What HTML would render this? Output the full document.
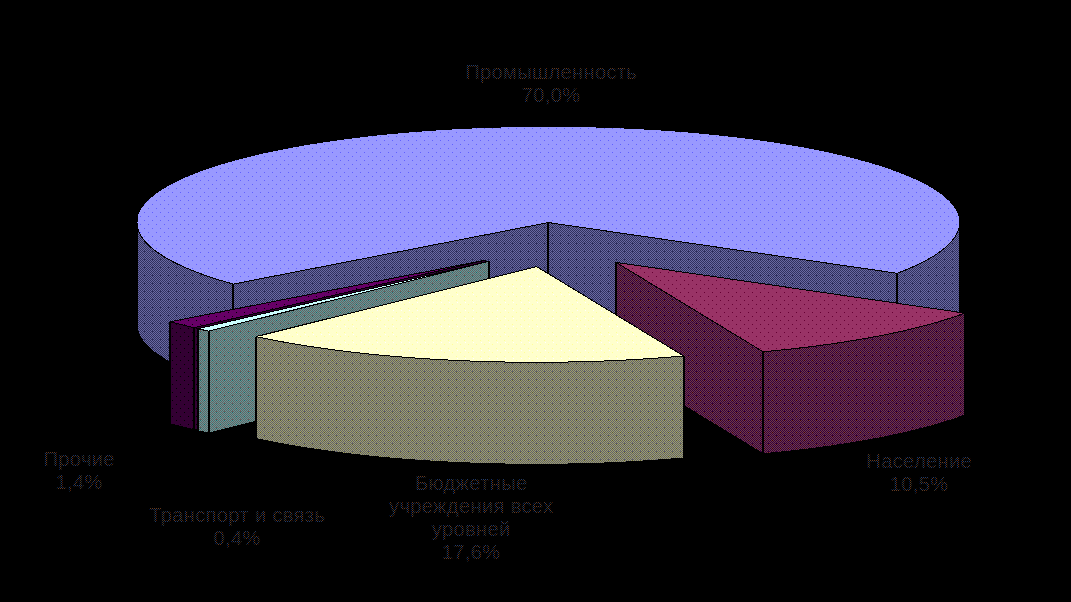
<!DOCTYPE html>
<html><head><meta charset="utf-8">
<style>
html,body{margin:0;padding:0;background:#000;}
body{width:1071px;height:602px;overflow:hidden;position:relative;}
svg{position:absolute;left:0;top:0;}
.t text{font-family:"Liberation Sans",sans-serif;font-size:20px;fill:url(#pText);letter-spacing:0.4px;}
</style></head><body>
<svg width="1071" height="602" viewBox="0 0 1071 602" shape-rendering="crispEdges">
<defs><pattern id="pBlueTop" patternUnits="userSpaceOnUse" width="8" height="8"><rect width="8" height="8" fill="#9999FF"/><rect x="0" y="4" width="1" height="1" fill="#6060FF"/><rect x="4" y="0" width="1" height="1" fill="#6060FF"/></pattern><pattern id="pBlueWall" patternUnits="userSpaceOnUse" width="8" height="8"><rect width="8" height="8" fill="#30305F"/><rect x="1" y="0" width="1" height="1" fill="#6A6AA2"/><rect x="3" y="0" width="1" height="1" fill="#6A6AA2"/><rect x="5" y="0" width="1" height="1" fill="#6A6AA2"/><rect x="7" y="0" width="1" height="1" fill="#6A6AA2"/><rect x="0" y="1" width="1" height="1" fill="#6A6AA2"/><rect x="2" y="1" width="1" height="1" fill="#6A6AA2"/><rect x="4" y="1" width="1" height="1" fill="#6A6AA2"/><rect x="6" y="1" width="1" height="1" fill="#6A6AA2"/><rect x="1" y="2" width="1" height="1" fill="#6A6AA2"/><rect x="3" y="2" width="1" height="1" fill="#6A6AA2"/><rect x="5" y="2" width="1" height="1" fill="#6A6AA2"/><rect x="7" y="2" width="1" height="1" fill="#6A6AA2"/><rect x="2" y="3" width="1" height="1" fill="#6A6AA2"/><rect x="4" y="3" width="1" height="1" fill="#6A6AA2"/><rect x="6" y="3" width="1" height="1" fill="#6A6AA2"/><rect x="1" y="4" width="1" height="1" fill="#6A6AA2"/><rect x="3" y="4" width="1" height="1" fill="#6A6AA2"/><rect x="5" y="4" width="1" height="1" fill="#6A6AA2"/><rect x="7" y="4" width="1" height="1" fill="#6A6AA2"/><rect x="0" y="5" width="1" height="1" fill="#6A6AA2"/><rect x="2" y="5" width="1" height="1" fill="#6A6AA2"/><rect x="4" y="5" width="1" height="1" fill="#6A6AA2"/><rect x="6" y="5" width="1" height="1" fill="#6A6AA2"/><rect x="1" y="6" width="1" height="1" fill="#6A6AA2"/><rect x="3" y="6" width="1" height="1" fill="#6A6AA2"/><rect x="5" y="6" width="1" height="1" fill="#6A6AA2"/><rect x="7" y="6" width="1" height="1" fill="#6A6AA2"/><rect x="0" y="7" width="1" height="1" fill="#6A6AA2"/><rect x="2" y="7" width="1" height="1" fill="#6A6AA2"/><rect x="4" y="7" width="1" height="1" fill="#6A6AA2"/><rect x="6" y="7" width="1" height="1" fill="#6A6AA2"/></pattern><pattern id="pNasTop" patternUnits="userSpaceOnUse" width="8" height="8"><rect width="8" height="8" fill="#993366"/><rect x="0" y="4" width="1" height="1" fill="#660033"/><rect x="4" y="0" width="1" height="1" fill="#660033"/></pattern><pattern id="pNasWall" patternUnits="userSpaceOnUse" width="8" height="8"><rect width="8" height="8" fill="#34003E"/><rect x="1" y="0" width="1" height="1" fill="#723A46"/><rect x="3" y="0" width="1" height="1" fill="#723A46"/><rect x="4" y="0" width="1" height="1" fill="#440000"/><rect x="5" y="0" width="1" height="1" fill="#723A46"/><rect x="7" y="0" width="1" height="1" fill="#723A46"/><rect x="0" y="1" width="1" height="1" fill="#723A46"/><rect x="2" y="1" width="1" height="1" fill="#723A46"/><rect x="4" y="1" width="1" height="1" fill="#723A46"/><rect x="6" y="1" width="1" height="1" fill="#723A46"/><rect x="1" y="2" width="1" height="1" fill="#723A46"/><rect x="3" y="2" width="1" height="1" fill="#723A46"/><rect x="5" y="2" width="1" height="1" fill="#723A46"/><rect x="7" y="2" width="1" height="1" fill="#723A46"/><rect x="2" y="3" width="1" height="1" fill="#723A46"/><rect x="4" y="3" width="1" height="1" fill="#723A46"/><rect x="6" y="3" width="1" height="1" fill="#723A46"/><rect x="0" y="4" width="1" height="1" fill="#440000"/><rect x="1" y="4" width="1" height="1" fill="#723A46"/><rect x="3" y="4" width="1" height="1" fill="#723A46"/><rect x="5" y="4" width="1" height="1" fill="#723A46"/><rect x="7" y="4" width="1" height="1" fill="#723A46"/><rect x="0" y="5" width="1" height="1" fill="#723A46"/><rect x="2" y="5" width="1" height="1" fill="#723A46"/><rect x="4" y="5" width="1" height="1" fill="#723A46"/><rect x="6" y="5" width="1" height="1" fill="#723A46"/><rect x="1" y="6" width="1" height="1" fill="#723A46"/><rect x="3" y="6" width="1" height="1" fill="#723A46"/><rect x="5" y="6" width="1" height="1" fill="#723A46"/><rect x="7" y="6" width="1" height="1" fill="#723A46"/><rect x="0" y="7" width="1" height="1" fill="#723A46"/><rect x="2" y="7" width="1" height="1" fill="#723A46"/><rect x="4" y="7" width="1" height="1" fill="#723A46"/><rect x="6" y="7" width="1" height="1" fill="#723A46"/></pattern><pattern id="pBudTop" patternUnits="userSpaceOnUse" width="8" height="8"><rect width="8" height="8" fill="#FFFFCC"/><rect x="0" y="4" width="1" height="1" fill="#FFFF99"/><rect x="4" y="0" width="1" height="1" fill="#FFFF99"/><rect x="1" y="6" width="1" height="1" fill="#FFFFFF"/></pattern><pattern id="pBudWall" patternUnits="userSpaceOnUse" width="8" height="8"><rect width="8" height="8" fill="#62626A"/><rect x="1" y="0" width="1" height="1" fill="#A0A06C"/><rect x="3" y="0" width="1" height="1" fill="#A0A06C"/><rect x="4" y="0" width="1" height="1" fill="#5A5A30"/><rect x="5" y="0" width="1" height="1" fill="#A0A06C"/><rect x="7" y="0" width="1" height="1" fill="#A0A06C"/><rect x="0" y="1" width="1" height="1" fill="#A0A06C"/><rect x="2" y="1" width="1" height="1" fill="#A0A06C"/><rect x="4" y="1" width="1" height="1" fill="#A0A06C"/><rect x="6" y="1" width="1" height="1" fill="#A0A06C"/><rect x="1" y="2" width="1" height="1" fill="#A0A06C"/><rect x="3" y="2" width="1" height="1" fill="#A0A06C"/><rect x="5" y="2" width="1" height="1" fill="#A0A06C"/><rect x="7" y="2" width="1" height="1" fill="#A0A06C"/><rect x="2" y="3" width="1" height="1" fill="#A0A06C"/><rect x="4" y="3" width="1" height="1" fill="#A0A06C"/><rect x="6" y="3" width="1" height="1" fill="#A0A06C"/><rect x="0" y="4" width="1" height="1" fill="#5A5A30"/><rect x="1" y="4" width="1" height="1" fill="#A0A06C"/><rect x="3" y="4" width="1" height="1" fill="#A0A06C"/><rect x="5" y="4" width="1" height="1" fill="#A0A06C"/><rect x="7" y="4" width="1" height="1" fill="#A0A06C"/><rect x="0" y="5" width="1" height="1" fill="#A0A06C"/><rect x="2" y="5" width="1" height="1" fill="#A0A06C"/><rect x="4" y="5" width="1" height="1" fill="#A0A06C"/><rect x="6" y="5" width="1" height="1" fill="#A0A06C"/><rect x="1" y="6" width="1" height="1" fill="#A0A06C"/><rect x="3" y="6" width="1" height="1" fill="#A0A06C"/><rect x="5" y="6" width="1" height="1" fill="#A0A06C"/><rect x="7" y="6" width="1" height="1" fill="#A0A06C"/><rect x="0" y="7" width="1" height="1" fill="#A0A06C"/><rect x="2" y="7" width="1" height="1" fill="#A0A06C"/><rect x="4" y="7" width="1" height="1" fill="#A0A06C"/><rect x="6" y="7" width="1" height="1" fill="#A0A06C"/></pattern><pattern id="pTrTop" patternUnits="userSpaceOnUse" width="8" height="8"><rect width="8" height="8" fill="#CCFFFF"/></pattern><pattern id="pTrWall" patternUnits="userSpaceOnUse" width="8" height="8"><rect width="8" height="8" fill="#686060"/><rect x="1" y="0" width="1" height="1" fill="#5E9C9C"/><rect x="3" y="0" width="1" height="1" fill="#5E9C9C"/><rect x="4" y="0" width="1" height="1" fill="#226666"/><rect x="5" y="0" width="1" height="1" fill="#5E9C9C"/><rect x="7" y="0" width="1" height="1" fill="#5E9C9C"/><rect x="0" y="1" width="1" height="1" fill="#5E9C9C"/><rect x="2" y="1" width="1" height="1" fill="#5E9C9C"/><rect x="4" y="1" width="1" height="1" fill="#5E9C9C"/><rect x="6" y="1" width="1" height="1" fill="#5E9C9C"/><rect x="1" y="2" width="1" height="1" fill="#5E9C9C"/><rect x="3" y="2" width="1" height="1" fill="#5E9C9C"/><rect x="5" y="2" width="1" height="1" fill="#5E9C9C"/><rect x="7" y="2" width="1" height="1" fill="#5E9C9C"/><rect x="2" y="3" width="1" height="1" fill="#5E9C9C"/><rect x="4" y="3" width="1" height="1" fill="#5E9C9C"/><rect x="6" y="3" width="1" height="1" fill="#5E9C9C"/><rect x="0" y="4" width="1" height="1" fill="#226666"/><rect x="1" y="4" width="1" height="1" fill="#5E9C9C"/><rect x="3" y="4" width="1" height="1" fill="#5E9C9C"/><rect x="5" y="4" width="1" height="1" fill="#5E9C9C"/><rect x="7" y="4" width="1" height="1" fill="#5E9C9C"/><rect x="0" y="5" width="1" height="1" fill="#5E9C9C"/><rect x="2" y="5" width="1" height="1" fill="#5E9C9C"/><rect x="4" y="5" width="1" height="1" fill="#5E9C9C"/><rect x="6" y="5" width="1" height="1" fill="#5E9C9C"/><rect x="1" y="6" width="1" height="1" fill="#5E9C9C"/><rect x="3" y="6" width="1" height="1" fill="#5E9C9C"/><rect x="5" y="6" width="1" height="1" fill="#5E9C9C"/><rect x="7" y="6" width="1" height="1" fill="#5E9C9C"/><rect x="0" y="7" width="1" height="1" fill="#5E9C9C"/><rect x="2" y="7" width="1" height="1" fill="#5E9C9C"/><rect x="4" y="7" width="1" height="1" fill="#5E9C9C"/><rect x="6" y="7" width="1" height="1" fill="#5E9C9C"/></pattern><pattern id="pPrTop" patternUnits="userSpaceOnUse" width="8" height="8"><rect width="8" height="8" fill="#660066"/><rect x="0" y="4" width="1" height="1" fill="#000000"/><rect x="4" y="0" width="1" height="1" fill="#000000"/></pattern><pattern id="pPrWall" patternUnits="userSpaceOnUse" width="8" height="8"><rect width="8" height="8" fill="#330033"/><rect x="0" y="4" width="1" height="1" fill="#000000"/><rect x="4" y="0" width="1" height="1" fill="#000000"/></pattern><pattern id="pText" patternUnits="userSpaceOnUse" width="2" height="2"><rect x="0" y="0" width="1" height="1" fill="#643a20"/><rect x="1" y="1" width="1" height="1" fill="#223c6a"/></pattern></defs>
<path d="M233.23,284.07 L230.93,283.43 L228.66,282.78 L226.42,282.13 L224.19,281.47 L222.00,280.81 L219.82,280.15 L217.68,279.48 L215.55,278.81 L213.46,278.13 L211.39,277.45 L209.34,276.76 L207.32,276.07 L205.33,275.38 L203.36,274.68 L201.42,273.97 L199.50,273.27 L197.61,272.56 L195.75,271.84 L193.92,271.13 L192.11,270.40 L190.33,269.68 L188.57,268.95 L186.85,268.22 L185.15,267.48 L183.48,266.74 L181.83,266.00 L180.22,265.26 L178.63,264.51 L177.07,263.75 L175.54,263.00 L174.04,262.24 L172.56,261.48 L171.12,260.72 L169.70,259.95 L168.31,259.18 L166.95,258.40 L165.62,257.63 L164.32,256.85 L163.05,256.07 L161.81,255.29 L160.59,254.50 L159.41,253.71 L158.26,252.92 L157.13,252.13 L156.04,251.33 L154.98,250.53 L153.94,249.74 L152.94,248.93 L151.96,248.13 L151.02,247.32 L150.10,246.52 L149.22,245.71 L148.37,244.90 L147.54,244.08 L146.75,243.27 L145.99,242.45 L145.26,241.63 L144.56,240.82 L143.89,239.99 L143.25,239.17 L142.64,238.35 L142.07,237.53 L141.52,236.70 L141.01,235.87 L140.52,235.05 L140.07,234.22 L139.65,233.39 L139.26,232.56 L138.90,231.73 L138.57,230.90 L138.27,230.06 L138.01,229.23 L137.77,228.40 L137.57,227.56 L137.39,226.73 L137.25,225.89 L137.14,225.06 L137.07,224.23 L137.02,223.39 L137.00,222.55 L137.00,324.55 L137.02,325.39 L137.07,326.23 L137.14,327.06 L137.25,327.89 L137.39,328.73 L137.57,329.56 L137.77,330.40 L138.01,331.23 L138.27,332.06 L138.57,332.90 L138.90,333.73 L139.26,334.56 L139.65,335.39 L140.07,336.22 L140.52,337.05 L141.01,337.87 L141.52,338.70 L142.07,339.53 L142.64,340.35 L143.25,341.17 L143.89,341.99 L144.56,342.82 L145.26,343.63 L145.99,344.45 L146.75,345.27 L147.54,346.08 L148.37,346.90 L149.22,347.71 L150.10,348.52 L151.02,349.32 L151.96,350.13 L152.94,350.93 L153.94,351.74 L154.98,352.53 L156.04,353.33 L157.13,354.13 L158.26,354.92 L159.41,355.71 L160.59,356.50 L161.81,357.29 L163.05,358.07 L164.32,358.85 L165.62,359.63 L166.95,360.40 L168.31,361.18 L169.70,361.95 L171.12,362.72 L172.56,363.48 L174.04,364.24 L175.54,365.00 L177.07,365.75 L178.63,366.51 L180.22,367.26 L181.83,368.00 L183.48,368.74 L185.15,369.48 L186.85,370.22 L188.57,370.95 L190.33,371.68 L192.11,372.40 L193.92,373.13 L195.75,373.84 L197.61,374.56 L199.50,375.27 L201.42,375.97 L203.36,376.68 L205.33,377.38 L207.32,378.07 L209.34,378.76 L211.39,379.45 L213.46,380.13 L215.55,380.81 L217.68,381.48 L219.82,382.15 L222.00,382.81 L224.19,383.47 L226.42,384.13 L228.66,384.78 L230.93,385.43 L233.23,386.07 Z" fill="url(#pBlueWall)" stroke="#000" stroke-width="1.0" stroke-linejoin="miter"/>
<path d="M959.60,222.55 L959.59,223.39 L959.54,224.23 L959.46,225.06 L959.35,225.89 L959.21,226.73 L959.04,227.56 L958.84,228.40 L958.60,229.23 L958.34,230.06 L958.04,230.90 L957.71,231.73 L957.35,232.56 L956.96,233.39 L956.54,234.22 L956.08,235.05 L955.60,235.87 L955.09,236.70 L954.54,237.53 L953.96,238.35 L953.35,239.17 L952.72,239.99 L952.05,240.82 L951.35,241.63 L950.62,242.45 L949.85,243.27 L949.06,244.08 L948.24,244.90 L947.39,245.71 L946.50,246.52 L945.59,247.32 L944.64,248.13 L943.67,248.93 L942.67,249.74 L941.63,250.53 L940.57,251.33 L939.47,252.13 L938.35,252.92 L937.20,253.71 L936.01,254.50 L934.80,255.29 L933.56,256.07 L932.29,256.85 L930.98,257.63 L929.65,258.40 L928.30,259.18 L926.91,259.95 L925.49,260.72 L924.04,261.48 L922.57,262.24 L921.07,263.00 L919.54,263.75 L917.98,264.51 L916.39,265.26 L914.77,266.00 L913.13,266.74 L911.46,267.48 L909.76,268.22 L908.03,268.95 L906.28,269.68 L904.50,270.40 L902.69,271.13 L900.86,271.84 L898.99,272.56 L897.11,273.27 L897.11,375.27 L898.99,374.56 L900.86,373.84 L902.69,373.13 L904.50,372.40 L906.28,371.68 L908.03,370.95 L909.76,370.22 L911.46,369.48 L913.13,368.74 L914.77,368.00 L916.39,367.26 L917.98,366.51 L919.54,365.75 L921.07,365.00 L922.57,364.24 L924.04,363.48 L925.49,362.72 L926.91,361.95 L928.30,361.18 L929.65,360.40 L930.98,359.63 L932.29,358.85 L933.56,358.07 L934.80,357.29 L936.01,356.50 L937.20,355.71 L938.35,354.92 L939.47,354.13 L940.57,353.33 L941.63,352.53 L942.67,351.74 L943.67,350.93 L944.64,350.13 L945.59,349.32 L946.50,348.52 L947.39,347.71 L948.24,346.90 L949.06,346.08 L949.85,345.27 L950.62,344.45 L951.35,343.63 L952.05,342.82 L952.72,341.99 L953.35,341.17 L953.96,340.35 L954.54,339.53 L955.09,338.70 L955.60,337.87 L956.08,337.05 L956.54,336.22 L956.96,335.39 L957.35,334.56 L957.71,333.73 L958.04,332.90 L958.34,332.06 L958.60,331.23 L958.84,330.40 L959.04,329.56 L959.21,328.73 L959.35,327.89 L959.46,327.06 L959.54,326.23 L959.59,325.39 L959.60,324.55 Z" fill="url(#pBlueWall)" stroke="#000" stroke-width="1.0" stroke-linejoin="miter"/>
<path d="M548.30,222.55 L233.23,284.07 L233.23,386.07 L548.30,324.55 Z" fill="url(#pBlueWall)" stroke="#000" stroke-width="1.0" stroke-linejoin="miter"/>
<path d="M548.30,222.55 L897.11,273.27 L897.11,375.27 L548.30,324.55 Z" fill="url(#pBlueWall)" stroke="#000" stroke-width="1.0" stroke-linejoin="miter"/>
<rect x="232" y="284.07" width="2" height="102.00" fill="#000"/>
<rect x="547" y="222.55" width="2" height="102.00" fill="#000"/>
<rect x="896" y="273.27" width="2" height="102.00" fill="#000"/>
<path d="M548.30,222.55 L233.23,284.07 L230.93,283.43 L228.66,282.78 L226.42,282.13 L224.19,281.47 L222.00,280.81 L219.82,280.15 L217.68,279.48 L215.55,278.81 L213.46,278.13 L211.39,277.45 L209.34,276.76 L207.32,276.07 L205.33,275.38 L203.36,274.68 L201.42,273.97 L199.50,273.27 L197.61,272.56 L195.75,271.84 L193.92,271.13 L192.11,270.40 L190.33,269.68 L188.57,268.95 L186.85,268.22 L185.15,267.48 L183.48,266.74 L181.83,266.00 L180.22,265.26 L178.63,264.51 L177.07,263.75 L175.54,263.00 L174.04,262.24 L172.56,261.48 L171.12,260.72 L169.70,259.95 L168.31,259.18 L166.95,258.40 L165.62,257.63 L164.32,256.85 L163.05,256.07 L161.81,255.29 L160.59,254.50 L159.41,253.71 L158.26,252.92 L157.13,252.13 L156.04,251.33 L154.98,250.53 L153.94,249.74 L152.94,248.93 L151.96,248.13 L151.02,247.32 L150.10,246.52 L149.22,245.71 L148.37,244.90 L147.54,244.08 L146.75,243.27 L145.99,242.45 L145.26,241.63 L144.56,240.82 L143.89,239.99 L143.25,239.17 L142.64,238.35 L142.07,237.53 L141.52,236.70 L141.01,235.87 L140.52,235.05 L140.07,234.22 L139.65,233.39 L139.26,232.56 L138.90,231.73 L138.57,230.90 L138.27,230.06 L138.01,229.23 L137.77,228.40 L137.57,227.56 L137.39,226.73 L137.25,225.89 L137.14,225.06 L137.07,224.23 L137.02,223.39 L137.00,222.55 L137.02,221.72 L137.07,220.88 L137.14,220.05 L137.25,219.21 L137.39,218.38 L137.57,217.55 L137.77,216.71 L138.01,215.88 L138.27,215.05 L138.57,214.21 L138.90,213.38 L139.26,212.55 L139.65,211.72 L140.07,210.89 L140.52,210.06 L141.01,209.24 L141.52,208.41 L142.07,207.58 L142.64,206.76 L143.25,205.94 L143.89,205.11 L144.56,204.29 L145.26,203.48 L145.99,202.66 L146.75,201.84 L147.54,201.03 L148.37,200.21 L149.22,199.40 L150.10,198.59 L151.02,197.79 L151.96,196.98 L152.94,196.18 L153.94,195.37 L154.98,194.57 L156.04,193.78 L157.13,192.98 L158.26,192.19 L159.41,191.40 L160.59,190.61 L161.81,189.82 L163.05,189.04 L164.32,188.26 L165.62,187.48 L166.95,186.70 L168.31,185.93 L169.70,185.16 L171.12,184.39 L172.56,183.63 L174.04,182.87 L175.54,182.11 L177.07,181.35 L178.63,180.60 L180.22,179.85 L181.83,179.11 L183.48,178.37 L185.15,177.63 L186.85,176.89 L188.57,176.16 L190.33,175.43 L192.11,174.70 L193.92,173.98 L195.75,173.27 L197.61,172.55 L199.50,171.84 L201.42,171.14 L203.36,170.43 L205.33,169.73 L207.32,169.04 L209.34,168.35 L211.39,167.66 L213.46,166.98 L215.55,166.30 L217.68,165.63 L219.82,164.96 L222.00,164.30 L224.19,163.64 L226.42,162.98 L228.66,162.33 L230.93,161.68 L233.23,161.04 L235.55,160.40 L237.89,159.77 L240.26,159.14 L242.65,158.52 L245.06,157.90 L247.50,157.29 L249.96,156.68 L252.44,156.08 L254.94,155.48 L257.47,154.88 L260.02,154.30 L262.59,153.71 L265.18,153.14 L267.80,152.56 L270.43,152.00 L273.09,151.44 L275.77,150.88 L278.47,150.33 L281.19,149.78 L283.92,149.24 L286.68,148.71 L289.46,148.18 L292.26,147.66 L295.08,147.14 L297.92,146.63 L300.78,146.13 L303.65,145.63 L306.55,145.13 L309.46,144.64 L312.39,144.16 L315.34,143.69 L318.31,143.22 L321.29,142.75 L324.29,142.29 L327.31,141.84 L330.35,141.40 L333.40,140.96 L336.47,140.52 L339.55,140.10 L342.65,139.68 L345.77,139.26 L348.90,138.85 L352.05,138.45 L355.21,138.06 L358.39,137.67 L361.58,137.29 L364.78,136.91 L368.00,136.54 L371.23,136.18 L374.48,135.82 L377.74,135.47 L381.01,135.13 L384.30,134.79 L387.60,134.46 L390.91,134.14 L394.23,133.82 L397.56,133.51 L400.91,133.21 L404.26,132.92 L407.63,132.63 L411.01,132.34 L414.40,132.07 L417.80,131.80 L421.20,131.54 L424.62,131.28 L428.05,131.04 L431.49,130.80 L434.93,130.56 L438.39,130.34 L441.85,130.12 L445.32,129.90 L448.80,129.70 L452.29,129.50 L455.78,129.31 L459.28,129.12 L462.79,128.95 L466.30,128.78 L469.82,128.61 L473.35,128.46 L476.88,128.31 L480.42,128.17 L483.96,128.03 L487.51,127.91 L491.06,127.79 L494.62,127.67 L498.18,127.57 L501.74,127.47 L505.31,127.38 L508.88,127.30 L512.46,127.22 L516.03,127.15 L519.61,127.09 L523.19,127.03 L526.78,126.99 L530.36,126.95 L533.95,126.91 L537.54,126.89 L541.13,126.87 L544.71,126.86 L548.30,126.85 L551.89,126.86 L555.48,126.87 L559.07,126.89 L562.66,126.91 L566.24,126.95 L569.83,126.99 L573.41,127.03 L576.99,127.09 L580.57,127.15 L584.15,127.22 L587.72,127.30 L591.30,127.38 L594.86,127.47 L598.43,127.57 L601.99,127.67 L605.55,127.79 L609.10,127.91 L612.64,128.03 L616.19,128.17 L619.72,128.31 L623.26,128.46 L626.78,128.61 L630.30,128.78 L633.82,128.95 L637.32,129.12 L640.83,129.31 L644.32,129.50 L647.81,129.70 L651.28,129.90 L654.76,130.12 L658.22,130.34 L661.67,130.56 L665.12,130.80 L668.56,131.04 L671.98,131.28 L675.40,131.54 L678.81,131.80 L682.21,132.07 L685.60,132.34 L688.98,132.63 L692.34,132.92 L695.70,133.21 L699.05,133.51 L702.38,133.82 L705.70,134.14 L709.01,134.46 L712.31,134.79 L715.59,135.13 L718.87,135.47 L722.13,135.82 L725.37,136.18 L728.61,136.54 L731.82,136.91 L735.03,137.29 L738.22,137.67 L741.40,138.06 L744.56,138.45 L747.71,138.85 L750.84,139.26 L753.95,139.68 L757.05,140.10 L760.14,140.52 L763.21,140.96 L766.26,141.40 L769.29,141.84 L772.31,142.29 L775.32,142.75 L778.30,143.22 L781.27,143.69 L784.22,144.16 L787.15,144.64 L790.06,145.13 L792.95,145.63 L795.83,146.13 L798.69,146.63 L801.52,147.14 L804.34,147.66 L807.14,148.18 L809.92,148.71 L812.68,149.24 L815.42,149.78 L818.14,150.33 L820.84,150.88 L823.52,151.44 L826.17,152.00 L828.81,152.56 L831.42,153.14 L834.02,153.71 L836.59,154.30 L839.14,154.88 L841.66,155.48 L844.17,156.08 L846.65,156.68 L849.11,157.29 L851.55,157.90 L853.96,158.52 L856.35,159.14 L858.72,159.77 L861.06,160.40 L863.38,161.04 L865.67,161.68 L867.94,162.33 L870.19,162.98 L872.41,163.64 L874.61,164.30 L876.78,164.96 L878.93,165.63 L881.05,166.30 L883.15,166.98 L885.22,167.66 L887.27,168.35 L889.29,169.04 L891.28,169.73 L893.25,170.43 L895.19,171.14 L897.11,171.84 L898.99,172.55 L900.86,173.27 L902.69,173.98 L904.50,174.70 L906.28,175.43 L908.03,176.16 L909.76,176.89 L911.46,177.63 L913.13,178.37 L914.77,179.11 L916.39,179.85 L917.98,180.60 L919.54,181.35 L921.07,182.11 L922.57,182.87 L924.04,183.63 L925.49,184.39 L926.91,185.16 L928.30,185.93 L929.65,186.70 L930.98,187.48 L932.29,188.26 L933.56,189.04 L934.80,189.82 L936.01,190.61 L937.20,191.40 L938.35,192.19 L939.47,192.98 L940.57,193.78 L941.63,194.57 L942.67,195.37 L943.67,196.18 L944.64,196.98 L945.59,197.79 L946.50,198.59 L947.39,199.40 L948.24,200.21 L949.06,201.03 L949.85,201.84 L950.62,202.66 L951.35,203.48 L952.05,204.29 L952.72,205.11 L953.35,205.94 L953.96,206.76 L954.54,207.58 L955.09,208.41 L955.60,209.24 L956.08,210.06 L956.54,210.89 L956.96,211.72 L957.35,212.55 L957.71,213.38 L958.04,214.21 L958.34,215.05 L958.60,215.88 L958.84,216.71 L959.04,217.55 L959.21,218.38 L959.35,219.21 L959.46,220.05 L959.54,220.88 L959.59,221.72 L959.60,222.55 L959.59,223.39 L959.54,224.23 L959.46,225.06 L959.35,225.89 L959.21,226.73 L959.04,227.56 L958.84,228.40 L958.60,229.23 L958.34,230.06 L958.04,230.90 L957.71,231.73 L957.35,232.56 L956.96,233.39 L956.54,234.22 L956.08,235.05 L955.60,235.87 L955.09,236.70 L954.54,237.53 L953.96,238.35 L953.35,239.17 L952.72,239.99 L952.05,240.82 L951.35,241.63 L950.62,242.45 L949.85,243.27 L949.06,244.08 L948.24,244.90 L947.39,245.71 L946.50,246.52 L945.59,247.32 L944.64,248.13 L943.67,248.93 L942.67,249.74 L941.63,250.53 L940.57,251.33 L939.47,252.13 L938.35,252.92 L937.20,253.71 L936.01,254.50 L934.80,255.29 L933.56,256.07 L932.29,256.85 L930.98,257.63 L929.65,258.40 L928.30,259.18 L926.91,259.95 L925.49,260.72 L924.04,261.48 L922.57,262.24 L921.07,263.00 L919.54,263.75 L917.98,264.51 L916.39,265.26 L914.77,266.00 L913.13,266.74 L911.46,267.48 L909.76,268.22 L908.03,268.95 L906.28,269.68 L904.50,270.40 L902.69,271.13 L900.86,271.84 L898.99,272.56 L897.11,273.27 Z" fill="url(#pBlueTop)" stroke="#000" stroke-width="1.0" stroke-linejoin="miter"/>
<path d="M137.57,217.55 L137.77,216.71 L138.01,215.88 L138.27,215.05 L138.57,214.21 L138.90,213.38 L139.26,212.55 L139.65,211.72 L140.07,210.89 L140.52,210.06 L141.01,209.24 L141.52,208.41 L142.07,207.58 L142.64,206.76 L143.25,205.94 L143.89,205.11 L144.56,204.29 L145.26,203.48 L145.99,202.66 L146.75,201.84 L147.54,201.03 L148.37,200.21 L149.22,199.40 L150.10,198.59 L151.02,197.79 L151.96,196.98 L152.94,196.18 L153.94,195.37 L154.98,194.57 L156.04,193.78 L157.13,192.98 L158.26,192.19 L159.41,191.40 L160.59,190.61 L161.81,189.82 L163.05,189.04 L164.32,188.26 L165.62,187.48 L166.95,186.70 L168.31,185.93 L169.70,185.16 L171.12,184.39 L172.56,183.63 L174.04,182.87 L175.54,182.11 L177.07,181.35 L178.63,180.60 L180.22,179.85 L181.83,179.11 L183.48,178.37 L185.15,177.63 L186.85,176.89 L188.57,176.16 L190.33,175.43 L192.11,174.70 L193.92,173.98 L195.75,173.27 L197.61,172.55 L199.50,171.84 L201.42,171.14 L203.36,170.43 L205.33,169.73 L207.32,169.04 L209.34,168.35 L211.39,167.66 L213.46,166.98 L215.55,166.30 L217.68,165.63 L219.82,164.96 L222.00,164.30 L224.19,163.64 L226.42,162.98 L228.66,162.33 L230.93,161.68 L233.23,161.04 L235.55,160.40 L237.89,159.77 L240.26,159.14 L242.65,158.52 L245.06,157.90 L247.50,157.29 L249.96,156.68 L252.44,156.08 L254.94,155.48 L257.47,154.88 L260.02,154.30 L262.59,153.71 L265.18,153.14 L267.80,152.56 L270.43,152.00 L273.09,151.44 L275.77,150.88 L278.47,150.33 L281.19,149.78 L283.92,149.24 L286.68,148.71 L289.46,148.18 L292.26,147.66 L295.08,147.14 L297.92,146.63 L300.78,146.13 L303.65,145.63 L306.55,145.13 L309.46,144.64 L312.39,144.16 L315.34,143.69 L318.31,143.22 L321.29,142.75 L324.29,142.29 L327.31,141.84 L330.35,141.40 L333.40,140.96 L336.47,140.52 L339.55,140.10 L342.65,139.68 L345.77,139.26 L348.90,138.85 L352.05,138.45 L355.21,138.06 L358.39,137.67 L361.58,137.29 L364.78,136.91 L368.00,136.54 L371.23,136.18 L374.48,135.82 L377.74,135.47 L381.01,135.13 L384.30,134.79 L387.60,134.46 L390.91,134.14 L394.23,133.82 L397.56,133.51 L400.91,133.21 L404.26,132.92 L407.63,132.63 L411.01,132.34 L414.40,132.07 L417.80,131.80 L421.20,131.54 L424.62,131.28 L428.05,131.04 L431.49,130.80 L434.93,130.56 L438.39,130.34 L441.85,130.12 L445.32,129.90 L448.80,129.70 L452.29,129.50 L455.78,129.31 L459.28,129.12 L462.79,128.95 L466.30,128.78 L469.82,128.61 L473.35,128.46 L476.88,128.31 L480.42,128.17 L483.96,128.03 L487.51,127.91 L491.06,127.79 L494.62,127.67 L498.18,127.57 L501.74,127.47 L505.31,127.38 L508.88,127.30 L512.46,127.22 L516.03,127.15 L519.61,127.09 L523.19,127.03 L526.78,126.99 L530.36,126.95 L533.95,126.91 L537.54,126.89 L541.13,126.87 L544.71,126.86 L548.30,126.85 L551.89,126.86 L555.48,126.87 L559.07,126.89 L562.66,126.91 L566.24,126.95 L569.83,126.99 L573.41,127.03 L576.99,127.09 L580.57,127.15 L584.15,127.22 L587.72,127.30 L591.30,127.38 L594.86,127.47 L598.43,127.57 L601.99,127.67 L605.55,127.79 L609.10,127.91 L612.64,128.03 L616.19,128.17 L619.72,128.31 L623.26,128.46 L626.78,128.61 L630.30,128.78 L633.82,128.95 L637.32,129.12 L640.83,129.31 L644.32,129.50 L647.81,129.70 L651.28,129.90 L654.76,130.12 L658.22,130.34 L661.67,130.56 L665.12,130.80 L668.56,131.04 L671.98,131.28 L675.40,131.54 L678.81,131.80 L682.21,132.07 L685.60,132.34 L688.98,132.63 L692.34,132.92 L695.70,133.21 L699.05,133.51 L702.38,133.82 L705.70,134.14 L709.01,134.46 L712.31,134.79 L715.59,135.13 L718.87,135.47 L722.13,135.82 L725.37,136.18 L728.61,136.54 L731.82,136.91 L735.03,137.29 L738.22,137.67 L741.40,138.06 L744.56,138.45 L747.71,138.85 L750.84,139.26 L753.95,139.68 L757.05,140.10 L760.14,140.52 L763.21,140.96 L766.26,141.40 L769.29,141.84 L772.31,142.29 L775.32,142.75 L778.30,143.22 L781.27,143.69 L784.22,144.16 L787.15,144.64 L790.06,145.13 L792.95,145.63 L795.83,146.13 L798.69,146.63 L801.52,147.14 L804.34,147.66 L807.14,148.18 L809.92,148.71 L812.68,149.24 L815.42,149.78 L818.14,150.33 L820.84,150.88 L823.52,151.44 L826.17,152.00 L828.81,152.56 L831.42,153.14 L834.02,153.71 L836.59,154.30 L839.14,154.88 L841.66,155.48 L844.17,156.08 L846.65,156.68 L849.11,157.29 L851.55,157.90 L853.96,158.52 L856.35,159.14 L858.72,159.77 L861.06,160.40 L863.38,161.04 L865.67,161.68 L867.94,162.33 L870.19,162.98 L872.41,163.64 L874.61,164.30 L876.78,164.96 L878.93,165.63 L881.05,166.30 L883.15,166.98 L885.22,167.66 L887.27,168.35 L889.29,169.04 L891.28,169.73 L893.25,170.43 L895.19,171.14 L897.11,171.84 L898.99,172.55 L900.86,173.27 L902.69,173.98 L904.50,174.70 L906.28,175.43 L908.03,176.16 L909.76,176.89 L911.46,177.63 L913.13,178.37 L914.77,179.11 L916.39,179.85 L917.98,180.60 L919.54,181.35 L921.07,182.11 L922.57,182.87 L924.04,183.63 L925.49,184.39 L926.91,185.16 L928.30,185.93 L929.65,186.70 L930.98,187.48 L932.29,188.26 L933.56,189.04 L934.80,189.82 L936.01,190.61 L937.20,191.40 L938.35,192.19 L939.47,192.98 L940.57,193.78 L941.63,194.57 L942.67,195.37 L943.67,196.18 L944.64,196.98 L945.59,197.79 L946.50,198.59 L947.39,199.40 L948.24,200.21 L949.06,201.03 L949.85,201.84 L950.62,202.66 L951.35,203.48 L952.05,204.29 L952.72,205.11 L953.35,205.94 L953.96,206.76 L954.54,207.58 L955.09,208.41 L955.60,209.24 L956.08,210.06 L956.54,210.89 L956.96,211.72 L957.35,212.55 L957.71,213.38 L958.04,214.21 L958.34,215.05 L958.60,215.88 L958.84,216.71 L959.04,217.55 Z" fill="url(#pBlueTop)"/>
<path d="M485.16,260.19 L193.82,327.74 L193.82,429.74 L485.16,362.19 Z" fill="url(#pPrWall)" stroke="#000" stroke-width="1.0" stroke-linejoin="miter"/>
<path d="M193.82,327.74 L191.08,327.09 L188.36,326.44 L185.67,325.78 L183.00,325.11 L180.36,324.44 L177.75,323.77 L175.17,323.08 L172.62,322.39 L170.09,321.70 L170.09,423.70 L172.62,424.39 L175.17,425.08 L177.75,425.77 L180.36,426.44 L183.00,427.11 L185.67,427.78 L188.36,428.44 L191.08,429.09 L193.82,429.74 Z" fill="url(#pPrWall)" stroke="#000" stroke-width="1.0" stroke-linejoin="miter"/>
<rect x="169" y="321.70" width="2" height="102.00" fill="#000"/>
<rect x="194" y="327.74" width="1" height="102.00" fill="#000"/>
<path d="M485.16,260.19 L193.82,327.74 L191.08,327.09 L188.36,326.44 L185.67,325.78 L183.00,325.11 L180.36,324.44 L177.75,323.77 L175.17,323.08 L172.62,322.39 L170.09,321.70 Z" fill="url(#pPrTop)" stroke="#000" stroke-width="1.0" stroke-linejoin="miter"/>
<path d="M489.25,261.17 L208.75,331.16 L208.75,433.16 L489.25,363.17 Z" fill="url(#pTrWall)" stroke="#000" stroke-width="1.0" stroke-linejoin="miter"/>
<path d="M208.75,331.16 L206.00,330.56 L203.28,329.95 L200.58,329.34 L197.91,328.72 L197.91,430.72 L200.58,431.34 L203.28,431.95 L206.00,432.56 L208.75,433.16 Z" fill="url(#pTrWall)" stroke="#000" stroke-width="1.0" stroke-linejoin="miter"/>
<rect x="488" y="261.17" width="2" height="102.00" fill="#000"/>
<rect x="208" y="331.16" width="2" height="102.00" fill="#000"/>
<rect x="198" y="328.72" width="1" height="102.00" fill="#000"/>
<path d="M489.25,261.17 L208.75,331.16 L206.00,330.56 L203.28,329.95 L200.58,329.34 L197.91,328.72 Z" fill="url(#pTrTop)" stroke="#000" stroke-width="1.0" stroke-linejoin="miter"/>
<path d="M616.03,262.37 L763.09,351.74 L763.09,453.74 L616.03,364.37 Z" fill="url(#pNasWall)" stroke="#000" stroke-width="1.0" stroke-linejoin="miter"/>
<path d="M964.83,313.08 L962.92,313.79 L960.97,314.49 L959.00,315.19 L957.00,315.89 L954.98,316.58 L952.93,317.26 L950.86,317.95 L948.76,318.63 L946.63,319.30 L944.48,319.97 L942.30,320.64 L940.10,321.30 L937.88,321.95 L935.63,322.61 L933.35,323.25 L931.06,323.90 L928.73,324.53 L926.39,325.17 L924.02,325.80 L921.62,326.42 L919.20,327.04 L916.76,327.65 L914.30,328.26 L911.81,328.87 L909.31,329.46 L906.78,330.06 L904.22,330.65 L901.65,331.23 L899.05,331.81 L896.43,332.38 L893.79,332.95 L891.13,333.51 L888.45,334.07 L885.74,334.62 L883.02,335.16 L880.28,335.70 L877.51,336.24 L874.73,336.77 L871.92,337.29 L869.10,337.81 L866.26,338.32 L863.39,338.83 L860.51,339.33 L857.61,339.82 L854.70,340.31 L851.76,340.79 L848.81,341.27 L845.83,341.74 L842.84,342.20 L839.84,342.66 L836.81,343.11 L833.77,343.56 L830.72,344.00 L827.64,344.43 L824.55,344.86 L821.45,345.28 L818.32,345.69 L815.19,346.10 L812.04,346.50 L808.87,346.90 L805.69,347.29 L802.49,347.67 L799.28,348.04 L796.05,348.41 L792.82,348.78 L789.56,349.13 L786.30,349.48 L783.02,349.83 L779.73,350.16 L776.43,350.49 L773.11,350.81 L769.78,351.13 L766.44,351.44 L763.09,351.74 L763.09,453.74 L766.44,453.44 L769.78,453.13 L773.11,452.81 L776.43,452.49 L779.73,452.16 L783.02,451.83 L786.30,451.48 L789.56,451.13 L792.82,450.78 L796.05,450.41 L799.28,450.04 L802.49,449.67 L805.69,449.29 L808.87,448.90 L812.04,448.50 L815.19,448.10 L818.32,447.69 L821.45,447.28 L824.55,446.86 L827.64,446.43 L830.72,446.00 L833.77,445.56 L836.81,445.11 L839.84,444.66 L842.84,444.20 L845.83,443.74 L848.81,443.27 L851.76,442.79 L854.70,442.31 L857.61,441.82 L860.51,441.33 L863.39,440.83 L866.26,440.32 L869.10,439.81 L871.92,439.29 L874.73,438.77 L877.51,438.24 L880.28,437.70 L883.02,437.16 L885.74,436.62 L888.45,436.07 L891.13,435.51 L893.79,434.95 L896.43,434.38 L899.05,433.81 L901.65,433.23 L904.22,432.65 L906.78,432.06 L909.31,431.46 L911.81,430.87 L914.30,430.26 L916.76,429.65 L919.20,429.04 L921.62,428.42 L924.02,427.80 L926.39,427.17 L928.73,426.53 L931.06,425.90 L933.35,425.25 L935.63,424.61 L937.88,423.95 L940.10,423.30 L942.30,422.64 L944.48,421.97 L946.63,421.30 L948.76,420.63 L950.86,419.95 L952.93,419.26 L954.98,418.58 L957.00,417.89 L959.00,417.19 L960.97,416.49 L962.92,415.79 L964.83,415.08 Z" fill="url(#pNasWall)" stroke="#000" stroke-width="1.0" stroke-linejoin="miter"/>
<rect x="615" y="262.37" width="2" height="102.00" fill="#000"/>
<rect x="762" y="351.74" width="2" height="102.00" fill="#000"/>
<path d="M616.03,262.37 L964.83,313.08 L962.92,313.79 L960.97,314.49 L959.00,315.19 L957.00,315.89 L954.98,316.58 L952.93,317.26 L950.86,317.95 L948.76,318.63 L946.63,319.30 L944.48,319.97 L942.30,320.64 L940.10,321.30 L937.88,321.95 L935.63,322.61 L933.35,323.25 L931.06,323.90 L928.73,324.53 L926.39,325.17 L924.02,325.80 L921.62,326.42 L919.20,327.04 L916.76,327.65 L914.30,328.26 L911.81,328.87 L909.31,329.46 L906.78,330.06 L904.22,330.65 L901.65,331.23 L899.05,331.81 L896.43,332.38 L893.79,332.95 L891.13,333.51 L888.45,334.07 L885.74,334.62 L883.02,335.16 L880.28,335.70 L877.51,336.24 L874.73,336.77 L871.92,337.29 L869.10,337.81 L866.26,338.32 L863.39,338.83 L860.51,339.33 L857.61,339.82 L854.70,340.31 L851.76,340.79 L848.81,341.27 L845.83,341.74 L842.84,342.20 L839.84,342.66 L836.81,343.11 L833.77,343.56 L830.72,344.00 L827.64,344.43 L824.55,344.86 L821.45,345.28 L818.32,345.69 L815.19,346.10 L812.04,346.50 L808.87,346.90 L805.69,347.29 L802.49,347.67 L799.28,348.04 L796.05,348.41 L792.82,348.78 L789.56,349.13 L786.30,349.48 L783.02,349.83 L779.73,350.16 L776.43,350.49 L773.11,350.81 L769.78,351.13 L766.44,351.44 L763.09,351.74 Z" fill="url(#pNasTop)" stroke="#000" stroke-width="1.0" stroke-linejoin="miter"/>
<path d="M683.70,355.96 L680.32,356.26 L676.93,356.55 L673.53,356.83 L670.11,357.11 L666.69,357.38 L663.25,357.64 L659.81,357.89 L656.36,358.14 L652.89,358.38 L649.42,358.62 L645.94,358.84 L642.45,359.06 L638.95,359.28 L635.45,359.48 L631.94,359.68 L628.42,359.87 L624.89,360.06 L621.36,360.23 L617.82,360.40 L614.27,360.56 L610.72,360.72 L607.16,360.87 L603.59,361.01 L600.03,361.14 L596.45,361.27 L592.87,361.39 L589.29,361.50 L585.70,361.60 L582.11,361.70 L578.52,361.79 L574.92,361.87 L571.32,361.94 L567.72,362.01 L564.11,362.07 L560.50,362.12 L556.89,362.17 L553.28,362.21 L549.67,362.24 L546.06,362.26 L542.44,362.28 L538.83,362.28 L535.21,362.28 L531.60,362.28 L527.99,362.26 L524.37,362.24 L520.76,362.21 L517.15,362.18 L513.54,362.13 L509.93,362.08 L506.32,362.02 L502.72,361.96 L499.12,361.89 L495.52,361.81 L491.93,361.72 L488.33,361.62 L484.75,361.52 L481.16,361.41 L477.58,361.29 L474.01,361.17 L470.44,361.04 L466.87,360.90 L463.31,360.75 L459.76,360.60 L456.21,360.44 L452.67,360.27 L449.14,360.09 L445.61,359.91 L442.09,359.72 L438.57,359.52 L435.06,359.32 L431.57,359.11 L428.07,358.89 L424.59,358.67 L421.12,358.43 L417.65,358.19 L414.20,357.95 L410.75,357.69 L407.32,357.43 L403.89,357.16 L400.47,356.89 L397.07,356.61 L393.67,356.32 L390.29,356.02 L386.92,355.72 L383.56,355.41 L380.21,355.09 L376.87,354.77 L373.55,354.44 L370.23,354.10 L366.93,353.76 L363.65,353.41 L360.38,353.05 L357.12,352.69 L353.87,352.32 L350.64,351.94 L347.42,351.56 L344.22,351.17 L341.03,350.77 L337.86,350.37 L334.71,349.96 L331.56,349.54 L328.44,349.12 L325.33,348.69 L322.24,348.25 L319.16,347.81 L316.10,347.36 L313.06,346.91 L310.03,346.45 L307.02,345.98 L304.03,345.51 L301.06,345.03 L298.11,344.55 L295.17,344.06 L292.26,343.56 L289.36,343.06 L286.48,342.55 L283.62,342.03 L280.78,341.51 L277.96,340.99 L275.16,340.46 L272.38,339.92 L269.62,339.37 L266.88,338.83 L264.16,338.27 L261.47,337.71 L258.79,337.15 L256.14,336.58 L256.14,438.58 L258.79,439.15 L261.47,439.71 L264.16,440.27 L266.88,440.83 L269.62,441.37 L272.38,441.92 L275.16,442.46 L277.96,442.99 L280.78,443.51 L283.62,444.03 L286.48,444.55 L289.36,445.06 L292.26,445.56 L295.17,446.06 L298.11,446.55 L301.06,447.03 L304.03,447.51 L307.02,447.98 L310.03,448.45 L313.06,448.91 L316.10,449.36 L319.16,449.81 L322.24,450.25 L325.33,450.69 L328.44,451.12 L331.56,451.54 L334.71,451.96 L337.86,452.37 L341.03,452.77 L344.22,453.17 L347.42,453.56 L350.64,453.94 L353.87,454.32 L357.12,454.69 L360.38,455.05 L363.65,455.41 L366.93,455.76 L370.23,456.10 L373.55,456.44 L376.87,456.77 L380.21,457.09 L383.56,457.41 L386.92,457.72 L390.29,458.02 L393.67,458.32 L397.07,458.61 L400.47,458.89 L403.89,459.16 L407.32,459.43 L410.75,459.69 L414.20,459.95 L417.65,460.19 L421.12,460.43 L424.59,460.67 L428.07,460.89 L431.57,461.11 L435.06,461.32 L438.57,461.52 L442.09,461.72 L445.61,461.91 L449.14,462.09 L452.67,462.27 L456.21,462.44 L459.76,462.60 L463.31,462.75 L466.87,462.90 L470.44,463.04 L474.01,463.17 L477.58,463.29 L481.16,463.41 L484.75,463.52 L488.33,463.62 L491.93,463.72 L495.52,463.81 L499.12,463.89 L502.72,463.96 L506.32,464.02 L509.93,464.08 L513.54,464.13 L517.15,464.18 L520.76,464.21 L524.37,464.24 L527.99,464.26 L531.60,464.28 L535.21,464.28 L538.83,464.28 L542.44,464.28 L546.06,464.26 L549.67,464.24 L553.28,464.21 L556.89,464.17 L560.50,464.12 L564.11,464.07 L567.72,464.01 L571.32,463.94 L574.92,463.87 L578.52,463.79 L582.11,463.70 L585.70,463.60 L589.29,463.50 L592.87,463.39 L596.45,463.27 L600.03,463.14 L603.59,463.01 L607.16,462.87 L610.72,462.72 L614.27,462.56 L617.82,462.40 L621.36,462.23 L624.89,462.06 L628.42,461.87 L631.94,461.68 L635.45,461.48 L638.95,461.28 L642.45,461.06 L645.94,460.84 L649.42,460.62 L652.89,460.38 L656.36,460.14 L659.81,459.89 L663.25,459.64 L666.69,459.38 L670.11,459.11 L673.53,458.83 L676.93,458.55 L680.32,458.26 L683.70,457.96 Z" fill="url(#pBudWall)" stroke="#000" stroke-width="1.0" stroke-linejoin="miter"/>
<rect x="683" y="355.96" width="2" height="102.00" fill="#000"/>
<rect x="255" y="336.58" width="2" height="102.00" fill="#000"/>
<path d="M536.64,266.58 L683.70,355.96 L680.32,356.26 L676.93,356.55 L673.53,356.83 L670.11,357.11 L666.69,357.38 L663.25,357.64 L659.81,357.89 L656.36,358.14 L652.89,358.38 L649.42,358.62 L645.94,358.84 L642.45,359.06 L638.95,359.28 L635.45,359.48 L631.94,359.68 L628.42,359.87 L624.89,360.06 L621.36,360.23 L617.82,360.40 L614.27,360.56 L610.72,360.72 L607.16,360.87 L603.59,361.01 L600.03,361.14 L596.45,361.27 L592.87,361.39 L589.29,361.50 L585.70,361.60 L582.11,361.70 L578.52,361.79 L574.92,361.87 L571.32,361.94 L567.72,362.01 L564.11,362.07 L560.50,362.12 L556.89,362.17 L553.28,362.21 L549.67,362.24 L546.06,362.26 L542.44,362.28 L538.83,362.28 L535.21,362.28 L531.60,362.28 L527.99,362.26 L524.37,362.24 L520.76,362.21 L517.15,362.18 L513.54,362.13 L509.93,362.08 L506.32,362.02 L502.72,361.96 L499.12,361.89 L495.52,361.81 L491.93,361.72 L488.33,361.62 L484.75,361.52 L481.16,361.41 L477.58,361.29 L474.01,361.17 L470.44,361.04 L466.87,360.90 L463.31,360.75 L459.76,360.60 L456.21,360.44 L452.67,360.27 L449.14,360.09 L445.61,359.91 L442.09,359.72 L438.57,359.52 L435.06,359.32 L431.57,359.11 L428.07,358.89 L424.59,358.67 L421.12,358.43 L417.65,358.19 L414.20,357.95 L410.75,357.69 L407.32,357.43 L403.89,357.16 L400.47,356.89 L397.07,356.61 L393.67,356.32 L390.29,356.02 L386.92,355.72 L383.56,355.41 L380.21,355.09 L376.87,354.77 L373.55,354.44 L370.23,354.10 L366.93,353.76 L363.65,353.41 L360.38,353.05 L357.12,352.69 L353.87,352.32 L350.64,351.94 L347.42,351.56 L344.22,351.17 L341.03,350.77 L337.86,350.37 L334.71,349.96 L331.56,349.54 L328.44,349.12 L325.33,348.69 L322.24,348.25 L319.16,347.81 L316.10,347.36 L313.06,346.91 L310.03,346.45 L307.02,345.98 L304.03,345.51 L301.06,345.03 L298.11,344.55 L295.17,344.06 L292.26,343.56 L289.36,343.06 L286.48,342.55 L283.62,342.03 L280.78,341.51 L277.96,340.99 L275.16,340.46 L272.38,339.92 L269.62,339.37 L266.88,338.83 L264.16,338.27 L261.47,337.71 L258.79,337.15 L256.14,336.58 Z" fill="url(#pBudTop)" stroke="#000" stroke-width="1.0" stroke-linejoin="miter"/>
<g class="t"><text x="551.2" y="79.40" text-anchor="middle">Промышленность</text><text x="551.2" y="102.40" text-anchor="middle">70,0%</text><text x="919.2" y="468.40" text-anchor="middle">Население</text><text x="919.2" y="491.40" text-anchor="middle">10,5%</text><text x="79.2" y="466.40" text-anchor="middle">Прочие</text><text x="79.2" y="489.40" text-anchor="middle">1,4%</text><text x="237.2" y="522.40" text-anchor="middle">Транспорт и связь</text><text x="237.2" y="545.40" text-anchor="middle">0,4%</text><text x="471.2" y="490.40" text-anchor="middle">Бюджетные</text><text x="471.2" y="513.40" text-anchor="middle">учреждения всех</text><text x="471.2" y="536.40" text-anchor="middle">уровней</text><text x="471.2" y="559.40" text-anchor="middle">17,6%</text></g>
</svg>
</body></html>
